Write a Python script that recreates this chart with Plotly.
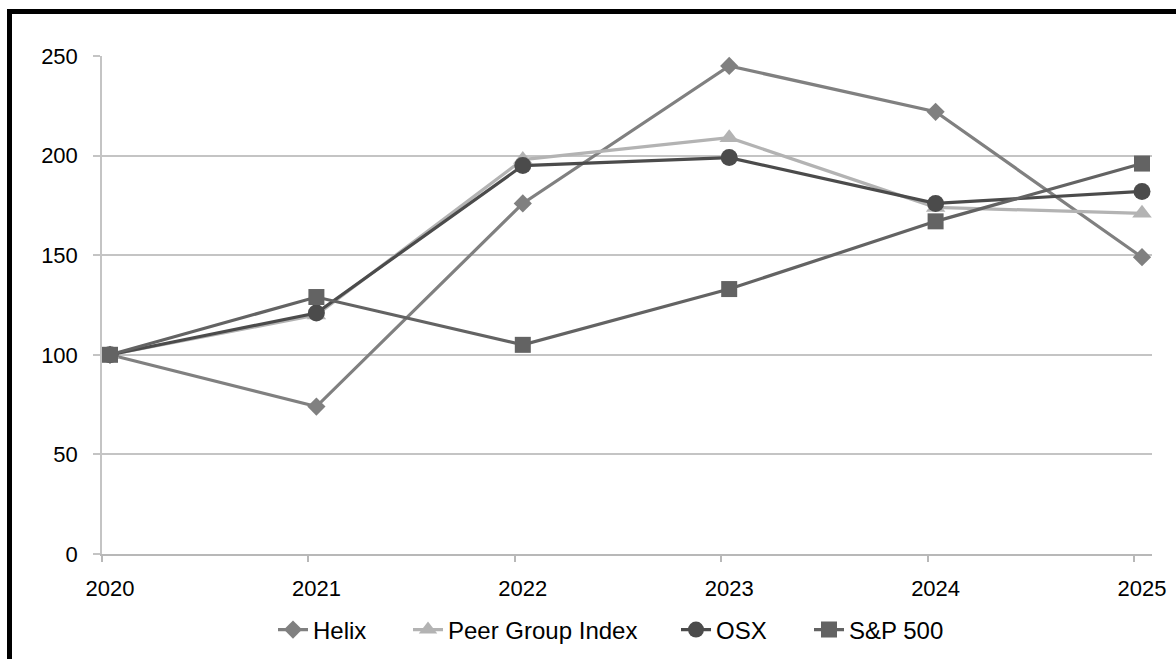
import plotly.graph_objects as go

years = [2020, 2021, 2022, 2023, 2024, 2025]
helix = [100, 74, 176, 245, 222, 149]
peer = [100, 120, 198, 209, 174, 171]
osx = [100, 121, 195, 199, 176, 182]
sp500 = [100, 129, 105, 133, 167, 196]

# name, values, colour, marker symbol, marker size, legend id, legend text start (px)
series = [
    ("Helix", helix, "#808080", "diamond", 14, "legend", 313),
    ("Peer Group Index", peer, "#b3b3b3", "triangle-up", 17, "legend2", 448),
    ("OSX", osx, "#4b4b4b", "circle", 17, "legend3", 716),
    ("S&P 500", sp500, "#636363", "square", 16, "legend4", 849),
]

FONT = "Liberation Sans, Arial, sans-serif"

W, H = 1176, 659
L, R, T, B = 102, 24, 56, 105
pw, ph = W - L - R, H - T - B

fig = go.Figure()
legends = {}
for name, vals, col, sym, sz, lg, tx in series:
    fig.add_trace(go.Scatter(
        x=years, y=vals, name=name, mode="lines+markers",
        line=dict(color=col, width=3.2),
        marker=dict(symbol=sym, size=sz, color=col),
        legend=lg,
    ))
    legends[lg] = dict(
        orientation="h", x=(tx - 40 - L) / pw, xanchor="left",
        y=(H - B - 630) / ph, yanchor="middle",
        font=dict(family=FONT, size=24, color="#000000"),
        bgcolor="rgba(0,0,0,0)",
    )

fig.update_layout(
    width=W, height=H,
    margin=dict(l=L, r=R, t=T, b=B, autoexpand=False),
    paper_bgcolor="white", plot_bgcolor="white",
    font=dict(family=FONT, size=22, color="#000000"),
    showlegend=True,
    xaxis=dict(
        range=[2020 - 8 / 206.4, 2025 + 10 / 206.4],
        tickmode="array", tickvals=years, ticktext=[str(y) for y in years],
        ticks="", showgrid=False, zeroline=False, automargin=False,
        showline=True, linecolor="#b8b8b8", linewidth=2,
        ticklabelstandoff=14,
        minor=dict(tickmode="array", tickvals=[y - 8 / 206.4 for y in years],
                   ticks="outside", ticklen=6, tickwidth=1.5, tickcolor="#b8b8b8",
                   showgrid=False),
    ),
    yaxis=dict(
        range=[0, 250], tickmode="linear", tick0=0, dtick=50,
        showgrid=True, gridcolor="#c4c4c4", gridwidth=1.5, automargin=False,
        zeroline=False, showline=True, linecolor="#c4c4c4", linewidth=1.5,
        ticks="outside", ticklen=7, tickwidth=1.5, tickcolor="#c4c4c4",
        ticklabelstandoff=11,
    ),
    shapes=[
        dict(type="line", xref="paper", yref="paper",
             x0=(9.5 - L) / pw, x1=(9.5 - L) / pw,
             y0=-0.3, y1=(H - B - 9) / ph,
             line=dict(color="black", width=5)),
        dict(type="line", xref="paper", yref="paper",
             x0=(7 - L) / pw, x1=1.1,
             y0=(H - B - 11.5) / ph, y1=(H - B - 11.5) / ph,
             line=dict(color="black", width=5)),
    ],
    **legends,
)

fig.write_html(
    "out.html",
    config={"displayModeBar": False},
    post_script=["document.body.style.margin='0px';document.body.style.overflow='hidden';"],
)
